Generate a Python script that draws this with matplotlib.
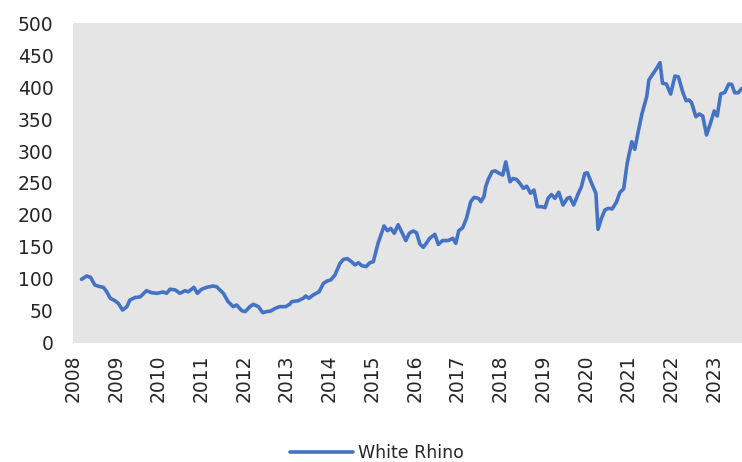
import numpy as np
import matplotlib.pyplot as plt

# White Rhino index (decimal year, value)
years = [2008.20, 2008.32, 2008.41, 2008.51, 2008.63, 2008.71, 2008.79, 2008.87, 2008.98,
         2009.06, 2009.16, 2009.26, 2009.33, 2009.45, 2009.57, 2009.72, 2009.84, 2009.96,
         2010.11, 2010.19, 2010.27, 2010.39, 2010.50, 2010.62, 2010.70, 2010.83, 2010.91,
         2011.01, 2011.13, 2011.28, 2011.36, 2011.52, 2011.63, 2011.75, 2011.83, 2011.95,
         2012.03, 2012.14, 2012.22, 2012.34, 2012.44, 2012.53, 2012.63, 2012.73, 2012.84, 2012.98,
         2013.08, 2013.12, 2013.27, 2013.39, 2013.45, 2013.52, 2013.62, 2013.76, 2013.86, 2013.95,
         2014.03, 2014.13, 2014.25, 2014.33, 2014.42, 2014.52, 2014.60, 2014.68, 2014.76, 2014.86, 2014.95,
         2015.03, 2015.14, 2015.28, 2015.36, 2015.44, 2015.52, 2015.61, 2015.69, 2015.79, 2015.87, 2015.96,
         2016.04, 2016.12, 2016.20, 2016.28, 2016.35, 2016.47, 2016.55, 2016.65, 2016.78, 2016.89, 2016.96,
         2017.03, 2017.12, 2017.21, 2017.31, 2017.39, 2017.49, 2017.55, 2017.62, 2017.66, 2017.72,
         2017.81, 2017.88, 2017.98,
         2018.06, 2018.13, 2018.23, 2018.30, 2018.38, 2018.46, 2018.54, 2018.62, 2018.71, 2018.79,
         2018.87, 2018.97,
         2019.05, 2019.12, 2019.20, 2019.28, 2019.37, 2019.47, 2019.57, 2019.63, 2019.72, 2019.83,
         2019.90, 2019.98,
         2020.04, 2020.14, 2020.24, 2020.29, 2020.37, 2020.45, 2020.53, 2020.62, 2020.72, 2020.80,
         2020.89, 2020.97,
         2021.08, 2021.15, 2021.23, 2021.32, 2021.43, 2021.48, 2021.58, 2021.66, 2021.74, 2021.80,
         2021.89, 2021.99,
         2022.09, 2022.17, 2022.27, 2022.35, 2022.42, 2022.48, 2022.58, 2022.66, 2022.74, 2022.83,
         2022.92,
         2023.01, 2023.08, 2023.16, 2023.26, 2023.35, 2023.42, 2023.49, 2023.57, 2023.66]
values = [99.5, 104.7, 102.6, 90.6, 88, 87, 80, 70, 66,
          62, 51.5, 56.7, 67, 71, 72, 81.7, 78.6, 77.6,
          79.7, 77.6, 84, 83, 77.6, 81.7, 80, 87, 77.6,
          84, 87, 89, 88, 77.6, 64.6, 56.8, 59.4, 50.5,
          49, 56.8, 60.4, 56.8, 47.4, 49, 50, 54, 56.8, 56.8,
          61, 64.6, 66, 69.8, 73.4, 69.8, 75, 80, 93, 96.9,
          98.4, 106, 124.5, 130.7, 131.8, 127, 121.9, 125.5, 120.8, 119.3, 125.5,
          127, 155.7, 182.8, 175.5, 179, 171.4, 184.8, 174, 160, 171.4, 175,
          172.4, 154.7, 149.5, 156.8, 163.6, 169.8, 154, 160, 160, 163.6, 155.7,
          175.5, 180, 194.8, 220.8, 227.6, 226, 220.8, 229, 244, 255.7,
          267.7, 269, 265,
          262.5, 283, 252, 257, 255.7, 249.5, 241.7, 245, 234, 239,
          213, 213,
          211.5, 226, 232, 226, 235.5, 215.6, 226, 227.6, 215.6, 234,
          244, 265,
          266, 249.5, 234, 177.6, 194.8, 207.8, 210.4, 209.4, 220, 235,
          241, 280,
          314.5, 302.6, 330, 358.8, 385, 411, 421, 429, 438, 405.8,
          404.7, 389,
          417, 416, 392.7, 378.6, 379.7, 375.5, 353.6, 357.8, 354.7, 325,
          343,
          362.5, 354.7, 389, 391.7, 404.7, 404, 391, 391, 398]

year_ticks = list(range(2008, 2024))
y_ticks = list(range(0, 501, 50))

plt.rcParams['font.family'] = ['DejaVu Sans']

fig = plt.figure(figsize=(7.42, 4.62), dpi=100)
ax = fig.add_axes([0.0984, 0.2576, 0.9016, 0.6926])
ax.set_facecolor('#e5e5e5')

ax.plot(years, values, color='#4472c4', linewidth=2.6, label='White Rhino',
        solid_capstyle='round', solid_joinstyle='round')

ax.set_xlim(2008, 2023.66)
ax.set_ylim(0, 500)
ax.set_xticks(year_ticks)
ax.set_xticklabels([str(y) for y in year_ticks], rotation=90)
ax.set_yticks(y_ticks)

for s in ax.spines.values():
    s.set_visible(False)
ax.tick_params(axis='both', length=0, labelsize=13.5, colors='#262626')
ax.tick_params(axis='y', pad=14)
ax.tick_params(axis='x', pad=8)

fig.legend(loc='center', bbox_to_anchor=(0.508, 0.02), frameon=False,
           fontsize=12.5, handlelength=3.6, handletextpad=0.3,
           labelcolor='#262626')

fig.savefig('out.png', dpi=100)
